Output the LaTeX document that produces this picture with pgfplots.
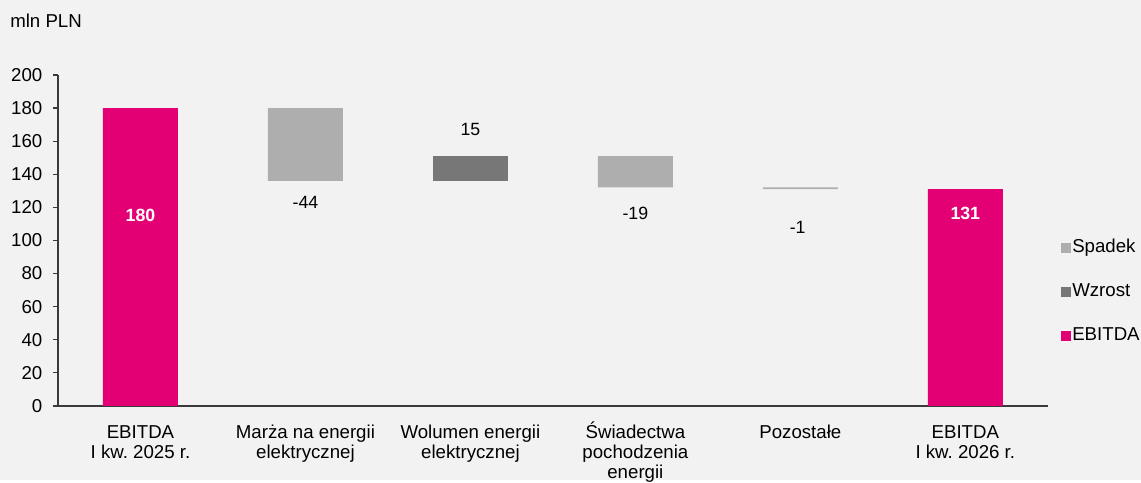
\documentclass[border=0pt]{standalone}
\usepackage{pgfplots}
\pgfplotsset{compat=1.18}
\usepackage{fontspec}
\setmainfont{Liberation Sans}
\frenchspacing
\definecolor{bg}{HTML}{F2F2F2}
\definecolor{ebitda}{HTML}{E20074}
\definecolor{spadek}{HTML}{AEAEAE}
\definecolor{wzrost}{HTML}{777777}
\definecolor{axisgray}{HTML}{3A3A3A}
\newcommand{\lbl}{\fontsize{14}{15}\selectfont}
\newcommand{\val}{\fontsize{13.3}{15}\selectfont}
\newcommand{\st}{\rule{0pt}{13.5pt}}

\begin{document}
\begin{tikzpicture}[font=\lbl]
  \fill[bg] (0,0) rectangle (855.75pt,360pt);
  \node[anchor=west, inner sep=0pt] at (7.5pt,344.5pt) {mln PLN};
  \begin{axis}[
      at={(43.5pt,55.5pt)}, anchor=south west,
      scale only axis, width=742.5pt, height=248.25pt,
      ybar stacked, bar width=0.4545,
      xmin=-0.5, xmax=5.5, ymin=0, ymax=200,
      ytick={0,20,...,200},
      xtick={0,...,5},
      xticklabels={
        \st EBITDA\\I kw. 2025 r.,
        \st Marża na energii\\elektrycznej,
        \st Wolumen energii\\elektrycznej,
        \st Świadectwa\\pochodzenia\\energii,
        \st Pozostałe,
        \st EBITDA\\I kw. 2026 r.
      },
      axis x line=bottom, axis y line=left,
      axis line style={-, draw=axisgray, line width=0.9pt},
      x tick style={draw=none},
      y tick style={draw=axisgray, line width=0.9pt},
      tick align=outside, major tick length=3.75pt,
      /pgf/number format/assume math mode=true,
      yticklabel style={font=\lbl, xshift=-4.5pt},
      xticklabel style={font=\lbl, align=center, inner sep=0pt,
        anchor=north, yshift=-6.75pt},
      legend style={at={(1.013,0.343)}, anchor=west, draw=none, fill=none,
        inner sep=0pt, row sep=17pt, font=\lbl,
        nodes={inner xsep=1pt, inner ysep=2pt, text height=9pt, text depth=3pt}},
      legend cell align=left,
      legend image code/.code={\fill[#1] (0pt,-3.75pt) rectangle (7.5pt,3.75pt);},
    ]
    % invisible base of the floating bars
    \addplot[draw=none, fill=none, forget plot] coordinates {
      (0,0) (1,136) (2,136) (3,132) (4,131) (5,0)
    };
    % Spadek
    \addplot[draw=none, fill=spadek] coordinates {
      (0,0) (1,44) (2,0) (3,19) (4,1) (5,0)
    };
    % Wzrost
    \addplot[draw=none, fill=wzrost] coordinates {
      (0,0) (1,0) (2,15) (3,0) (4,0) (5,0)
    };
    % EBITDA
    \addplot[draw=none, fill=ebitda] coordinates {
      (0,180) (1,0) (2,0) (3,0) (4,0) (5,131)
    };
    \legend{Spadek, Wzrost, EBITDA}

    \coordinate (v0) at (axis cs:0,115.4);
    \coordinate (v1) at (axis cs:1,122.7);
    \coordinate (v2) at (axis cs:2,166.8);
    \coordinate (v3) at (axis cs:3,116.6);
    \coordinate (v4) at (axis cs:4,107.6);
    \coordinate (v5) at (axis cs:5,116.6);
  \end{axis}
  % value labels, on top of the bars
  \node[text=white, font=\val\bfseries] at (v0) {180};
  \node[font=\val] at (v1) {-44};
  \node[font=\val] at (v2) {15};
  \node[font=\val] at (v3) {-19};
  \node[font=\val] at ([xshift=-2pt]v4) {-1};
  \node[text=white, font=\val\bfseries] at (v5) {131};
\end{tikzpicture}
\end{document}
